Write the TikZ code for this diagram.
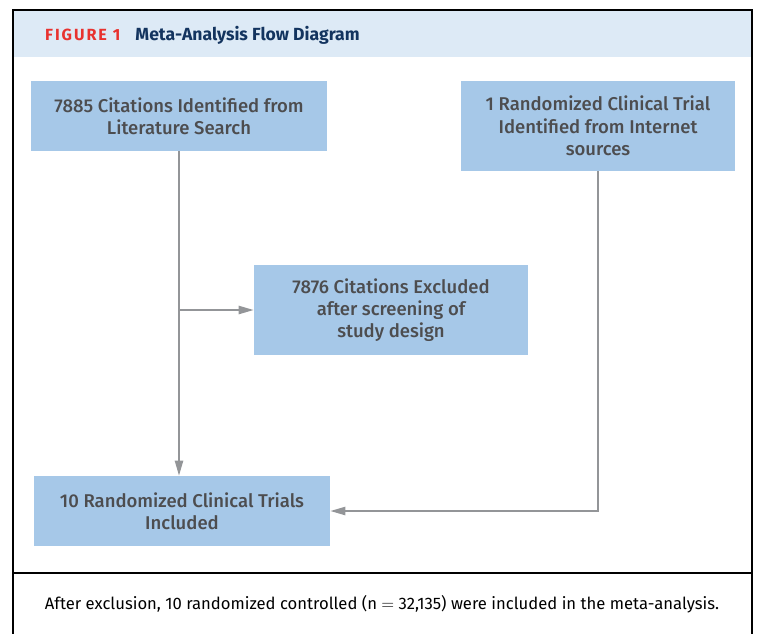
\documentclass[tikz,border=0pt]{standalone}
\usepackage{fontspec}
\setmainfont{Fira Sans}
\newfontfamily\boxfont{Fira Sans Medium}
\usetikzlibrary{arrows.meta}
\definecolor{boxblue}{HTML}{A6C8E8}
\definecolor{bandblue}{HTML}{DDEAF6}
\definecolor{linegray}{HTML}{939598}
\definecolor{textgray}{HTML}{4D4D4F}
\definecolor{figred}{HTML}{E8322F}
\definecolor{navy}{HTML}{13345F}
\begin{document}
\begin{tikzpicture}[x=0.03cm,y=-0.03cm,>={Triangle[length=13pt,width=7pt]},
  flowbox/.style={fill=boxblue,text=textgray,align=center,inner sep=0pt,font=\boxfont\fontsize{15.8}{19}\selectfont},
  link/.style={draw=linegray,line width=1.7pt}]
\useasboundingbox (0,0) rectangle (757,633);
% frame and header band
\fill[bandblue] (13,10) rectangle (752,57);
\draw[line width=1.2pt] (13,640)--(13,10)--(752,10)--(752,640);
\draw[line width=1.2pt] (13,573)--(752,573);
\node[anchor=west,inner sep=0pt] (title) at (45,35){{\color{figred}\bfseries\fontsize{13.8}{15}\selectfont\addfontfeatures{LetterSpace=12}FIGURE 1}\hspace{13pt}{\color{navy}\bfseries\fontsize{15}{17}\selectfont Meta-Analysis Flow Diagram}};
% boxes
\node[flowbox,minimum width=8.88cm,minimum height=2.1cm] (search) at (179,116){7885 Citations Identified from\\Literature Search};
\node[flowbox,minimum width=8.22cm,minimum height=2.7cm] (internet) at (598,126){1 Randomized Clinical Trial\\Identified from Internet\\sources};
\node[flowbox,minimum width=8.22cm,minimum height=2.7cm] (excluded) at (391,310){7876 Citations Excluded\\after screening of\\study design};
\node[flowbox,minimum width=8.88cm,minimum height=2.1cm] (included) at (182,511){10 Randomized Clinical Trials\\Included};
% connectors
\coordinate (split) at (search.south |- excluded.west);
\draw[link,->] (search.south)--(search.south |- included.north);
\draw[link,->] (split)--(excluded.west);
\draw[link,->] (internet.south)--(internet.south |- included.east)--(included.east);
% footnote
\node[font=\fontsize{14.2}{16}\selectfont] (note) at (382,604){After exclusion, 10 randomized controlled (n $=$ 32,135) were included in the meta-analysis.};
\end{tikzpicture}
\end{document}
